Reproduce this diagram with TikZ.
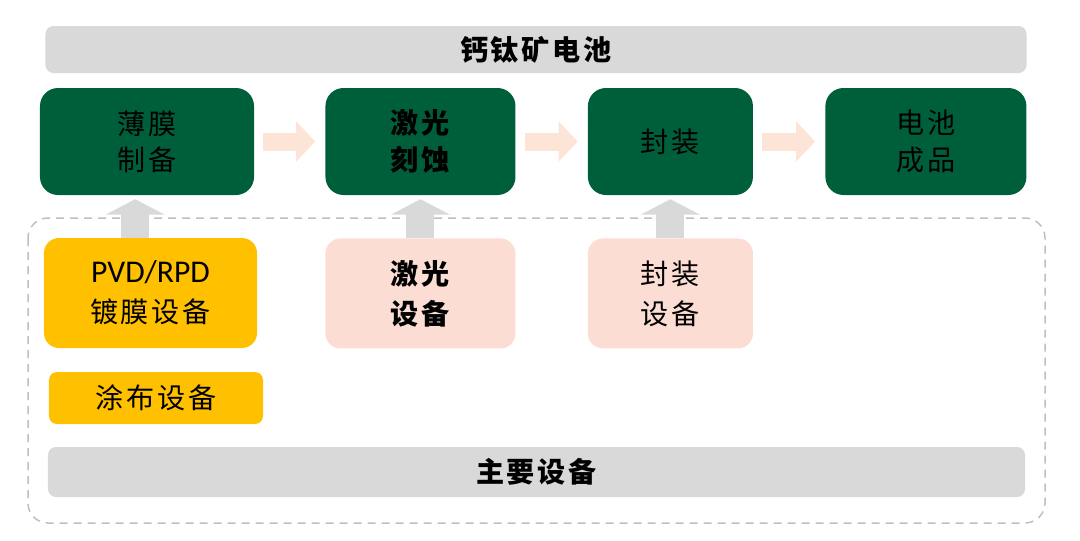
\documentclass[tikz,border=0pt]{standalone}
\usepackage{fontspec}
\newfontfamily\cjk[LetterSpace=10]{Noto Sans CJK SC}
\newfontfamily\lat{Carlito}
\usetikzlibrary{arrows.meta,positioning}
\definecolor{zold}{HTML}{005F3B}
\definecolor{szurke}{HTML}{D9D9D9}
\definecolor{sarga}{HTML}{FFC000}
\definecolor{rozsa}{HTML}{FBDDD3}
\definecolor{barack}{HTML}{FCE4D6}
\definecolor{keretszin}{HTML}{BFBFBF}
\tikzset{
  csik/.style={fill=szurke,rounded corners=2.4mm,inner sep=0pt,align=center},
  lepes/.style={fill=zold,rounded corners=5.4mm,inner sep=0pt,align=center,
                minimum height=32.1mm},
  gep/.style={rounded corners=4.5mm,inner sep=0pt,align=center,
              font=\cjk\fontsize{24}{34}\selectfont},
  nyil/.style={-{Triangle[width=11.7mm,length=5.7mm]},line width=5.4mm,draw=barack,
               shorten <=2.7mm,shorten >=3mm},
  fel/.style={-{Triangle[width=17.5mm,length=4.6mm]},line width=8.4mm,draw=szurke,
              shorten >=1.2mm},
  keret/.style={draw=keretszin,line width=0.45mm,dash pattern=on 2.4mm off 1.8mm,
                rounded corners=6mm},
}

\begin{document}
\begin{tikzpicture}[x=0.3mm,y=-0.3mm,font=\cjk\fontsize{24}{31}\selectfont]
  \useasboundingbox (0,0) rectangle (1080,541);
  \draw[keret] (28,218) rectangle (1045,523);

  \node[csik,minimum width=294.3mm,minimum height=14.1mm] (elem) at (536,49.5) {\bfseries 钙钛矿电池};

  \node[lepes,minimum width=64.2mm] (b1) at (147,141.5) {薄膜\\制备};
  \node[lepes,minimum width=57mm,right=21.3mm of b1] (b2) {\bfseries 激光\\\bfseries 刻蚀};
  \node[lepes,minimum width=49.5mm,right=21.6mm of b2] (b3) {封装};
  \node[lepes,minimum width=60.3mm,right=21.6mm of b3] (b4) {电池\\成品};
  \draw[nyil] (b1) -- (b2);
  \draw[nyil] (b2) -- (b3);
  \draw[nyil] (b3) -- (b4);

  \node[gep,fill=sarga,minimum width=63.9mm,minimum height=33mm] (pvd) at (150.5,293)
    {{\lat\fontsize{27}{34}\selectfont PVD/RPD}\\镀膜设备};
  \node[gep,fill=rozsa,minimum width=57mm,minimum height=33mm,below=12.9mm of b2] (lezer)
    {\bfseries 激光\\\bfseries 设备};
  \node[gep,fill=rozsa,minimum width=49.5mm,minimum height=33mm,below=12.9mm of b3] (tokozo)
    {封装\\设备};
  \node[gep,fill=sarga,rounded corners=2.4mm,minimum width=64.2mm,minimum height=15.6mm]
    (bevono) at (156,398) {涂布设备};
  \node[csik,minimum width=293.1mm,minimum height=15mm] (fo) at (536.5,472) {\bfseries 主要设备};

  \coordinate (f1) at ([xshift=-4.6mm]pvd.north);
  \draw[fel] (f1) -- (f1 |- b1.south);
  \draw[fel] (lezer) -- (b2);
  \draw[fel] (tokozo) -- (b3);
\end{tikzpicture}
\end{document}
